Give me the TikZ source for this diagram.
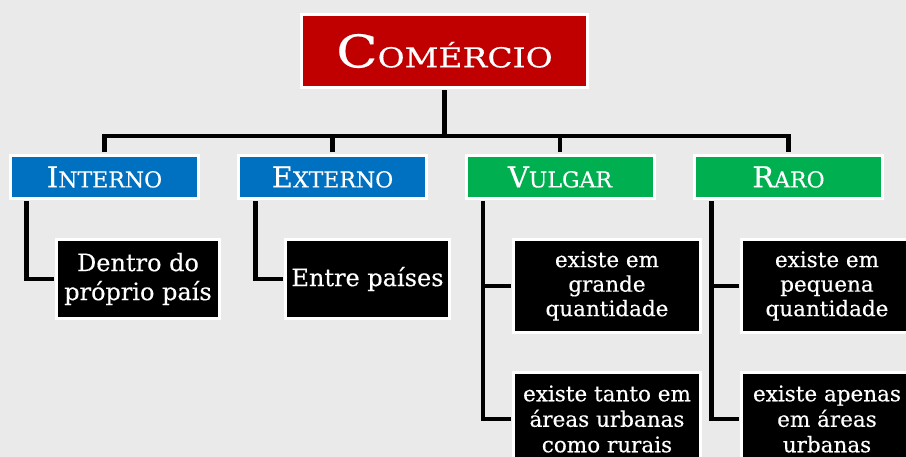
\documentclass[tikz,border=0pt]{standalone}
\usepackage{fontspec}
\setmainfont[FakeBold=0.4]{DejaVu Serif}
\newfontfamily\titlefont[FakeStretch=1.2,FakeBold=0.4]{DejaVu Serif}
\usetikzlibrary{calc}
\definecolor{bgc}{RGB}{234,234,234}
\definecolor{redc}{RGB}{192,0,0}
\definecolor{bluec}{RGB}{0,112,192}
\definecolor{greenc}{RGB}{0,176,80}
\tikzset{
  box/.style={draw=white, line width=3pt, text=white, inner sep=0pt, align=center},
  conn/.style={line width=4.5pt, black, line join=miter},
}
\begin{document}
\begin{tikzpicture}[x=1pt,y=-1pt]
\useasboundingbox (0,0) rectangle (906,457);
\fill[bgc] (0,0) rectangle (906,457);
\clip (0,0) rectangle (906,457);
% top
\node[box, fill=redc, minimum width=286, minimum height=73] (tit) at (444.5,51)
  {\titlefont{\fontsize{45}{45}\selectfont C}{\fontsize{27.5}{27.5}\selectfont OMÉRCIO}};
% second level
\node[box, fill=bluec, minimum width=188, minimum height=43] (int) at (104.5,177)
  {{\fontsize{29}{29}\selectfont I}{\fontsize{22}{22}\selectfont NTERNO}};
\node[box, fill=bluec, minimum width=188, minimum height=43] (ext) at (332.5,177)
  {{\fontsize{29}{29}\selectfont E}{\fontsize{22}{22}\selectfont XTERNO}};
\node[box, fill=greenc, minimum width=188, minimum height=43] (vul) at (560,177)
  {{\fontsize{29}{29}\selectfont V}{\fontsize{22}{22}\selectfont ULGAR}};
\node[box, fill=greenc, minimum width=188, minimum height=43] (rar) at (788.5,177)
  {{\fontsize{29}{29}\selectfont R}{\fontsize{22}{22}\selectfont ARO}};
% third level
\node[box, fill=black, minimum width=163, minimum height=79, font=\fontsize{24}{29}\selectfont] (den) at (138,279)
  {Dentro do\\próprio país};
\node[box, fill=black, minimum width=164, minimum height=79, font=\fontsize{24}{29}\selectfont] (ent) at (367.5,279)
  {Entre países};
\node[box, fill=black, minimum width=187, minimum height=93, font=\fontsize{21.5}{24.5}\selectfont] (v1) at (607,286)
  {existe em\\grande\\quantidade};
\node[box, fill=black, minimum width=187, minimum height=93, font=\fontsize{21.5}{25.5}\selectfont] (v2) at (607,419)
  {existe tanto em\\áreas urbanas\\como rurais};
\node[box, fill=black, minimum width=171, minimum height=93, font=\fontsize{21.5}{24.5}\selectfont] (r1) at (827,286)
  {existe em\\pequena\\quantidade};
\node[box, fill=black, minimum width=171, minimum height=93, font=\fontsize{21.5}{25.5}\selectfont] (r2) at (827,419)
  {existe apenas\\em áreas\\urbanas};
% connectors
\coordinate (bus) at (0,136);
\draw[conn] ([yshift=1.5pt]int.north) |- (rar.north |- bus) -- ([yshift=1.5pt]rar.north);
\draw[conn] ([yshift=-1.5pt]tit.south) -- (tit.south |- bus);
\draw[conn] ([yshift=1.5pt]ext.north) -- (ext.north |- bus);
\draw[conn] ([yshift=1.5pt]vul.north) -- (vul.north |- bus);
\coordinate (it) at ([xshift=17.5pt,yshift=-1.5pt]int.south west);
\coordinate (et) at ([xshift=18.5pt,yshift=-1.5pt]ext.south west);
\coordinate (vt) at ([xshift=18.5pt,yshift=-1.5pt]vul.south west);
\coordinate (rt) at ([xshift=18.5pt,yshift=-1.5pt]rar.south west);
\draw[conn] (it) |- ([xshift=-1.5pt]den.west);
\draw[conn] (et) |- ([xshift=-1.5pt]ent.west);
\draw[conn] (vt) |- ([xshift=-1.5pt]v2.west);
\draw[conn] (vt |- v1.west) -- ([xshift=-1.5pt]v1.west);
\draw[conn] (rt) |- ([xshift=-1.5pt]r2.west);
\draw[conn] (rt |- r1.west) -- ([xshift=-1.5pt]r1.west);
\end{tikzpicture}
\end{document}
